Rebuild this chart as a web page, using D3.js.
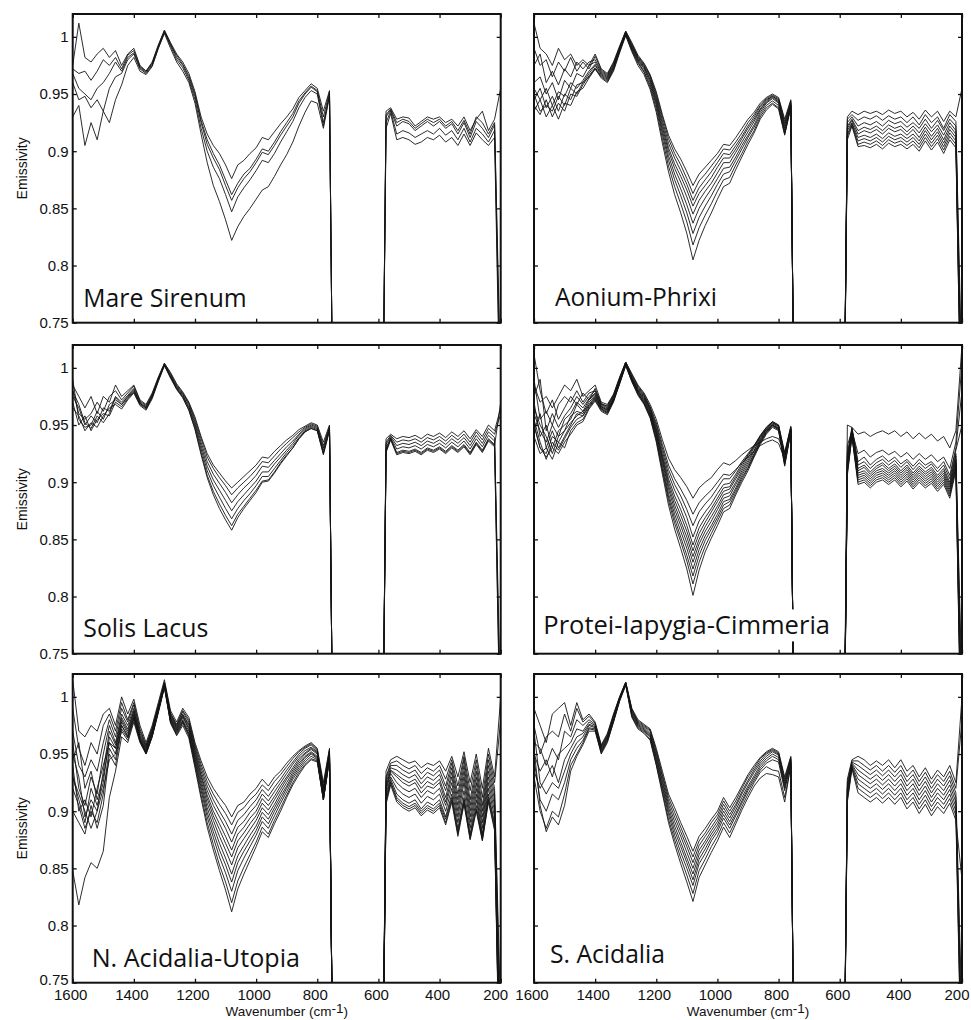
<!DOCTYPE html>
<html lang="en">
<head>
    <meta charset="UTF-8">
    <title>TES emissivity spectra</title>
    <script src="https://d3js.org/d3.v7.min.js"></script>
    <style>
        body { margin: 0; background: #fff; }
        text { font-family: "Liberation Sans", Arial, sans-serif; }
    </style>
</head>
<body>
<script>
// wavenumber grid (cm-1), 745 and 590 sit inside the CO2 band where the spectra fall off the plot
const wavenumbers = [1600,1580,1560,1540,1520,1500,1480,1460,1440,1420,1400,1380,1360,1340,1320,1300,1280,1260,1240,1220,
    1200,1180,1160,1140,1120,1100,1080,1060,1040,1020,1000,980,960,940,920,900,880,860,840,820,800,780,760,
    745,590,
    575,560,540,520,500,480,460,440,420,400,380,360,340,320,300,280,260,240,220,200];

const regions = ["Mare Sirenum", "Aonium-Phrixi", "Solis Lacus", "Protei-Iapygia-Cimmeria", "N. Acidalia-Utopia", "S. Acidalia"];
const xTicks = [1600, 1400, 1200, 1000, 800, 600, 400, 200];
const yTicks = [0.75, 0.8, 0.85, 0.9, 0.95, 1];

const mareSirenum = [
 [0.975,1.012,0.982,0.978,0.985,0.99,0.982,0.988,0.975,0.985,0.99,0.975,0.97,0.978,0.993,1.006,0.995,0.985,0.978,0.968,
  0.952,0.93,0.915,0.905,0.898,0.888,0.876,0.888,0.892,0.898,0.903,0.912,0.91,0.917,0.924,0.93,0.937,0.947,0.953,0.959,0.955,0.935,0.953,
  0.55,0.55,
  0.935,0.938,0.928,0.93,0.929,0.922,0.926,0.93,0.928,0.93,0.925,0.928,0.922,0.93,0.918,0.928,0.935,0.918,0.928,0.955],
 [0.972,0.968,0.97,0.962,0.97,0.98,0.975,0.982,0.972,0.984,0.988,0.974,0.97,0.977,0.992,1.005,0.993,0.984,0.976,0.966,
  0.95,0.927,0.91,0.898,0.888,0.875,0.862,0.872,0.88,0.885,0.893,0.902,0.9,0.908,0.917,0.925,0.933,0.944,0.951,0.957,0.953,0.93,0.952,
  0.55,0.55,
  0.932,0.937,0.925,0.928,0.926,0.92,0.924,0.928,0.925,0.928,0.922,0.926,0.918,0.927,0.915,0.93,0.925,0.915,0.925,0.7],
 [0.968,0.955,0.95,0.945,0.955,0.96,0.968,0.978,0.97,0.982,0.986,0.973,0.969,0.976,0.991,1.005,0.994,0.982,0.975,0.964,
  0.948,0.925,0.906,0.894,0.884,0.87,0.857,0.868,0.876,0.882,0.89,0.899,0.897,0.905,0.914,0.922,0.93,0.942,0.95,0.956,0.952,0.925,0.95,
  0.55,0.55,
  0.93,0.936,0.922,0.926,0.924,0.918,0.922,0.926,0.922,0.926,0.92,0.924,0.915,0.925,0.912,0.926,0.92,0.912,0.923,0.68],
 [0.96,0.945,0.948,0.938,0.945,0.935,0.955,0.965,0.968,0.98,0.985,0.972,0.968,0.975,0.99,1.004,0.992,0.98,0.973,0.962,
  0.945,0.92,0.9,0.886,0.876,0.862,0.847,0.86,0.868,0.875,0.883,0.892,0.89,0.898,0.908,0.917,0.926,0.938,0.947,0.953,0.95,0.922,0.949,
  0.55,0.55,
  0.925,0.935,0.915,0.918,0.916,0.912,0.915,0.918,0.915,0.92,0.914,0.918,0.91,0.92,0.908,0.92,0.915,0.908,0.918,0.66],
 [0.93,0.94,0.905,0.925,0.91,0.935,0.925,0.945,0.958,0.975,0.982,0.97,0.967,0.974,0.99,1.003,0.99,0.978,0.97,0.96,
  0.942,0.915,0.89,0.87,0.856,0.84,0.822,0.834,0.843,0.85,0.858,0.866,0.869,0.878,0.888,0.897,0.908,0.922,0.934,0.944,0.942,0.92,0.948,
  0.55,0.55,
  0.92,0.933,0.91,0.912,0.91,0.906,0.908,0.912,0.91,0.914,0.908,0.912,0.905,0.915,0.905,0.916,0.91,0.905,0.912,0.64]
];

const aoniumPhrixi = [
 [1.012,0.99,0.985,0.975,0.99,0.98,0.985,0.975,0.98,0.975,0.985,0.972,0.968,0.978,0.992,1.005,0.995,0.984,0.977,0.967,
  0.952,0.932,0.914,0.902,0.893,0.882,0.87,0.88,0.886,0.892,0.898,0.906,0.905,0.912,0.92,0.928,0.934,0.942,0.947,0.95,0.947,0.928,0.945,
  0.55,0.55,
  0.93,0.935,0.932,0.935,0.933,0.935,0.932,0.936,0.933,0.935,0.93,0.934,0.928,0.936,0.93,0.935,0.926,0.935,0.93,0.955],
 [0.99,0.975,0.98,0.965,0.978,0.97,0.982,0.97,0.978,0.972,0.983,0.971,0.967,0.977,0.991,1.005,0.994,0.983,0.976,0.966,
  0.95,0.93,0.911,0.898,0.888,0.876,0.863,0.874,0.88,0.887,0.894,0.902,0.901,0.908,0.916,0.925,0.932,0.94,0.946,0.949,0.946,0.926,0.944,
  0.55,0.55,
  0.928,0.932,0.927,0.93,0.928,0.931,0.927,0.931,0.928,0.93,0.925,0.93,0.923,0.932,0.925,0.93,0.92,0.932,0.926,0.7],
 [0.975,0.985,0.96,0.97,0.958,0.972,0.965,0.978,0.972,0.978,0.98,0.97,0.966,0.976,0.99,1.004,0.993,0.982,0.975,0.965,
  0.948,0.927,0.907,0.894,0.883,0.871,0.857,0.868,0.875,0.882,0.89,0.898,0.897,0.905,0.913,0.922,0.93,0.939,0.945,0.948,0.945,0.924,0.943,
  0.55,0.55,
  0.925,0.93,0.922,0.925,0.923,0.926,0.922,0.927,0.924,0.926,0.921,0.925,0.92,0.928,0.92,0.927,0.918,0.928,0.922,0.68],
 [0.96,0.965,0.95,0.96,0.945,0.962,0.955,0.968,0.965,0.975,0.978,0.969,0.965,0.975,0.99,1.004,0.992,0.981,0.974,0.963,
  0.946,0.924,0.903,0.889,0.878,0.866,0.852,0.863,0.87,0.877,0.886,0.894,0.894,0.902,0.911,0.92,0.928,0.937,0.944,0.948,0.944,0.922,0.942,
  0.55,0.55,
  0.922,0.928,0.918,0.921,0.919,0.922,0.918,0.923,0.92,0.922,0.917,0.922,0.916,0.924,0.917,0.923,0.914,0.925,0.918,0.66],
 [0.955,0.945,0.955,0.94,0.952,0.948,0.96,0.955,0.962,0.97,0.976,0.968,0.964,0.974,0.989,1.003,0.991,0.98,0.973,0.962,
  0.944,0.921,0.9,0.885,0.873,0.86,0.845,0.857,0.865,0.872,0.881,0.89,0.89,0.899,0.908,0.917,0.926,0.936,0.943,0.947,0.943,0.92,0.941,
  0.55,0.55,
  0.92,0.927,0.915,0.918,0.916,0.919,0.915,0.92,0.917,0.919,0.914,0.919,0.912,0.921,0.913,0.92,0.91,0.922,0.915,0.65],
 [0.945,0.955,0.938,0.948,0.935,0.95,0.945,0.958,0.96,0.968,0.975,0.967,0.963,0.973,0.988,1.003,0.99,0.979,0.972,0.96,
  0.942,0.918,0.896,0.88,0.867,0.853,0.837,0.85,0.859,0.867,0.876,0.885,0.886,0.895,0.905,0.914,0.923,0.934,0.942,0.946,0.942,0.918,0.94,
  0.55,0.55,
  0.918,0.925,0.912,0.914,0.912,0.915,0.911,0.916,0.913,0.915,0.911,0.915,0.909,0.918,0.91,0.917,0.907,0.919,0.912,0.64],
 [0.94,0.932,0.945,0.93,0.942,0.935,0.95,0.948,0.958,0.966,0.973,0.966,0.962,0.972,0.988,1.002,0.989,0.978,0.97,0.958,
  0.94,0.915,0.892,0.875,0.861,0.846,0.828,0.842,0.852,0.861,0.871,0.88,0.882,0.892,0.902,0.912,0.921,0.932,0.94,0.944,0.94,0.916,0.94,
  0.55,0.55,
  0.915,0.924,0.909,0.911,0.909,0.912,0.908,0.913,0.91,0.912,0.908,0.912,0.906,0.915,0.907,0.914,0.904,0.916,0.909,0.63],
 [0.935,0.945,0.93,0.94,0.928,0.942,0.94,0.952,0.955,0.964,0.972,0.965,0.961,0.971,0.987,1.002,0.988,0.977,0.969,0.956,
  0.937,0.911,0.887,0.869,0.854,0.838,0.818,0.833,0.844,0.854,0.865,0.875,0.877,0.888,0.898,0.909,0.918,0.93,0.938,0.942,0.938,0.915,0.939,
  0.55,0.55,
  0.913,0.923,0.906,0.908,0.906,0.909,0.905,0.91,0.907,0.909,0.905,0.909,0.903,0.912,0.904,0.911,0.901,0.913,0.906,0.62],
 [0.95,0.935,0.94,0.935,0.948,0.94,0.955,0.95,0.96,0.965,0.972,0.964,0.96,0.97,0.986,1.001,0.987,0.975,0.967,0.954,
  0.934,0.907,0.882,0.862,0.846,0.828,0.805,0.822,0.835,0.846,0.858,0.869,0.872,0.884,0.895,0.906,0.916,0.928,0.936,0.941,0.937,0.914,0.938,
  0.55,0.55,
  0.91,0.922,0.904,0.905,0.903,0.906,0.902,0.907,0.904,0.906,0.902,0.906,0.9,0.909,0.901,0.908,0.898,0.91,0.903,0.62]
];

const solisLacus = [
 [0.985,0.975,0.965,0.975,0.96,0.975,0.97,0.985,0.975,0.98,0.985,0.972,0.968,0.978,0.992,1.004,0.996,0.986,0.979,0.97,
  0.957,0.94,0.925,0.915,0.908,0.901,0.895,0.9,0.905,0.91,0.915,0.922,0.921,0.927,0.932,0.937,0.941,0.946,0.949,0.952,0.95,0.935,0.95,
  0.55,0.55,
  0.938,0.942,0.938,0.94,0.939,0.941,0.938,0.942,0.94,0.943,0.939,0.944,0.94,0.945,0.938,0.946,0.94,0.95,0.945,0.965],
 [0.98,0.96,0.955,0.96,0.97,0.962,0.975,0.98,0.972,0.978,0.984,0.971,0.967,0.977,0.991,1.004,0.995,0.985,0.978,0.969,
  0.955,0.938,0.922,0.912,0.904,0.897,0.889,0.895,0.9,0.905,0.911,0.918,0.917,0.923,0.929,0.934,0.939,0.944,0.948,0.951,0.949,0.932,0.949,
  0.55,0.55,
  0.935,0.941,0.935,0.937,0.936,0.938,0.935,0.939,0.937,0.94,0.936,0.941,0.937,0.942,0.935,0.944,0.937,0.947,0.942,0.96],
 [0.975,0.965,0.95,0.958,0.952,0.965,0.962,0.975,0.97,0.976,0.982,0.97,0.966,0.976,0.99,1.003,0.994,0.984,0.977,0.968,
  0.953,0.935,0.918,0.907,0.899,0.891,0.882,0.889,0.895,0.9,0.906,0.914,0.913,0.919,0.925,0.931,0.936,0.942,0.947,0.95,0.948,0.93,0.948,
  0.55,0.55,
  0.933,0.94,0.932,0.934,0.933,0.935,0.932,0.936,0.934,0.937,0.933,0.938,0.934,0.939,0.932,0.941,0.934,0.944,0.939,0.7],
 [0.99,0.955,0.948,0.95,0.962,0.955,0.968,0.972,0.968,0.974,0.98,0.969,0.965,0.975,0.99,1.003,0.993,0.983,0.976,0.966,
  0.951,0.932,0.914,0.902,0.893,0.884,0.875,0.883,0.889,0.895,0.901,0.909,0.909,0.916,0.922,0.928,0.934,0.941,0.946,0.949,0.947,0.928,0.947,
  0.55,0.55,
  0.93,0.939,0.929,0.931,0.93,0.932,0.929,0.933,0.931,0.934,0.93,0.935,0.931,0.936,0.929,0.938,0.931,0.941,0.936,0.68],
 [0.97,0.95,0.958,0.945,0.955,0.96,0.958,0.97,0.966,0.973,0.979,0.968,0.964,0.974,0.989,1.002,0.992,0.982,0.975,0.965,
  0.949,0.929,0.91,0.897,0.887,0.877,0.868,0.877,0.884,0.89,0.897,0.905,0.905,0.912,0.919,0.926,0.932,0.939,0.945,0.948,0.946,0.926,0.946,
  0.55,0.55,
  0.928,0.938,0.926,0.928,0.927,0.929,0.926,0.93,0.928,0.931,0.927,0.932,0.928,0.933,0.926,0.935,0.928,0.938,0.933,0.66],
 [0.965,0.958,0.945,0.952,0.948,0.958,0.965,0.968,0.964,0.972,0.978,0.967,0.963,0.973,0.988,1.002,0.991,0.981,0.974,0.963,
  0.947,0.926,0.906,0.892,0.881,0.871,0.862,0.872,0.879,0.886,0.893,0.901,0.902,0.909,0.917,0.924,0.93,0.938,0.944,0.947,0.945,0.924,0.945,
  0.55,0.55,
  0.926,0.937,0.924,0.926,0.925,0.927,0.924,0.928,0.926,0.929,0.925,0.93,0.926,0.931,0.924,0.933,0.926,0.936,0.931,0.65],
 [0.98,0.968,0.952,0.947,0.958,0.952,0.96,0.974,0.968,0.975,0.981,0.969,0.965,0.975,0.989,1.003,0.992,0.982,0.974,0.963,
  0.946,0.924,0.904,0.889,0.877,0.867,0.858,0.869,0.877,0.884,0.891,0.9,0.901,0.908,0.916,0.923,0.93,0.938,0.944,0.947,0.945,0.925,0.946,
  0.55,0.55,
  0.927,0.938,0.925,0.927,0.926,0.928,0.925,0.929,0.927,0.93,0.926,0.931,0.927,0.932,0.925,0.934,0.927,0.937,0.932,0.97]
];

const proteiIapygiaCimmeria = [
 [0.985,0.97,0.975,0.965,0.975,0.985,0.98,0.99,0.975,0.98,0.985,0.97,0.968,0.977,0.992,1.005,0.995,0.985,0.978,0.968,
  0.955,0.937,0.921,0.911,0.904,0.896,0.886,0.895,0.9,0.904,0.911,0.917,0.915,0.919,0.924,0.928,0.932,0.935,0.938,0.94,0.938,0.925,0.946,
  0.55,0.55,
  0.95,0.948,0.942,0.944,0.94,0.943,0.945,0.942,0.945,0.94,0.944,0.938,0.943,0.938,0.942,0.936,0.94,0.93,0.945,1.02],
 [0.99,0.955,0.962,0.95,0.968,0.975,0.97,0.98,0.97,0.978,0.98,0.968,0.967,0.976,0.991,1.005,0.994,0.984,0.977,0.966,
  0.952,0.933,0.915,0.903,0.894,0.884,0.872,0.882,0.888,0.893,0.9,0.907,0.906,0.911,0.917,0.922,0.927,0.932,0.935,0.937,0.934,0.92,0.945,
  0.55,0.55,
  0.932,0.945,0.925,0.928,0.922,0.926,0.928,0.924,0.927,0.922,0.926,0.92,0.925,0.92,0.924,0.918,0.922,0.912,0.935,1.005],
 [1.012,0.98,0.96,0.972,0.955,0.965,0.975,0.968,0.978,0.972,0.982,0.969,0.966,0.976,0.99,1.005,0.993,0.983,0.976,0.965,
  0.95,0.93,0.911,0.898,0.888,0.876,0.862,0.874,0.881,0.887,0.895,0.903,0.903,0.91,0.918,0.925,0.932,0.94,0.946,0.95,0.947,0.925,0.948,
  0.55,0.55,
  0.925,0.948,0.918,0.922,0.915,0.92,0.923,0.918,0.922,0.916,0.92,0.914,0.92,0.915,0.918,0.912,0.918,0.906,0.93,0.98],
 [0.975,0.99,0.945,0.96,0.948,0.958,0.965,0.975,0.968,0.975,0.98,0.968,0.965,0.975,0.99,1.005,0.992,0.982,0.975,0.964,
  0.948,0.927,0.907,0.893,0.882,0.869,0.852,0.866,0.874,0.881,0.89,0.898,0.899,0.907,0.916,0.924,0.932,0.941,0.948,0.953,0.95,0.926,0.949,
  0.55,0.55,
  0.922,0.947,0.915,0.918,0.912,0.917,0.92,0.915,0.919,0.913,0.918,0.911,0.917,0.912,0.916,0.909,0.915,0.903,0.928,0.95],
 [0.96,0.945,0.935,0.95,0.94,0.955,0.96,0.97,0.965,0.973,0.978,0.967,0.964,0.974,0.989,1.004,0.991,0.981,0.974,0.963,
  0.946,0.924,0.903,0.888,0.876,0.862,0.845,0.86,0.869,0.877,0.886,0.895,0.896,0.905,0.914,0.923,0.931,0.94,0.948,0.953,0.95,0.924,0.948,
  0.55,0.55,
  0.92,0.946,0.912,0.915,0.909,0.914,0.917,0.912,0.916,0.91,0.915,0.908,0.914,0.909,0.913,0.906,0.912,0.9,0.925,0.72],
 [0.95,0.93,0.925,0.94,0.935,0.945,0.958,0.962,0.96,0.97,0.976,0.966,0.963,0.973,0.989,1.004,0.991,0.98,0.973,0.962,
  0.945,0.922,0.9,0.884,0.871,0.857,0.84,0.855,0.865,0.874,0.883,0.892,0.894,0.903,0.912,0.921,0.93,0.939,0.947,0.952,0.949,0.922,0.947,
  0.55,0.55,
  0.918,0.945,0.91,0.913,0.907,0.912,0.915,0.91,0.914,0.908,0.913,0.906,0.912,0.907,0.911,0.904,0.91,0.898,0.923,0.7],
 [0.97,0.94,0.95,0.93,0.945,0.95,0.955,0.968,0.962,0.972,0.977,0.966,0.963,0.973,0.988,1.004,0.99,0.98,0.972,0.961,
  0.943,0.92,0.897,0.88,0.866,0.852,0.835,0.85,0.861,0.87,0.879,0.889,0.891,0.9,0.91,0.919,0.928,0.938,0.946,0.952,0.949,0.92,0.947,
  0.55,0.55,
  0.915,0.944,0.908,0.91,0.905,0.91,0.912,0.908,0.912,0.906,0.911,0.904,0.91,0.905,0.909,0.902,0.908,0.896,0.92,0.68],
 [0.94,0.925,0.93,0.945,0.93,0.94,0.95,0.96,0.958,0.968,0.975,0.965,0.962,0.972,0.988,1.003,0.99,0.979,0.971,0.96,
  0.942,0.918,0.894,0.876,0.862,0.847,0.83,0.846,0.857,0.866,0.876,0.886,0.888,0.898,0.908,0.917,0.927,0.937,0.945,0.951,0.948,0.918,0.946,
  0.55,0.55,
  0.913,0.943,0.906,0.908,0.903,0.908,0.91,0.906,0.91,0.904,0.909,0.902,0.908,0.903,0.907,0.9,0.906,0.894,0.918,0.66],
 [0.965,0.95,0.94,0.925,0.94,0.945,0.952,0.958,0.962,0.967,0.974,0.964,0.961,0.972,0.987,1.003,0.989,0.978,0.97,0.959,
  0.94,0.915,0.89,0.872,0.857,0.842,0.824,0.841,0.853,0.862,0.872,0.883,0.885,0.895,0.906,0.915,0.925,0.936,0.944,0.95,0.947,0.917,0.945,
  0.55,0.55,
  0.911,0.942,0.904,0.906,0.901,0.906,0.908,0.904,0.908,0.902,0.907,0.9,0.906,0.901,0.905,0.898,0.904,0.892,0.916,0.65],
 [0.955,0.935,0.92,0.935,0.928,0.938,0.948,0.955,0.958,0.966,0.973,0.964,0.961,0.971,0.987,1.003,0.989,0.978,0.969,0.958,
  0.938,0.912,0.887,0.868,0.852,0.836,0.818,0.836,0.849,0.859,0.869,0.88,0.883,0.893,0.904,0.913,0.924,0.935,0.944,0.95,0.946,0.916,0.945,
  0.55,0.55,
  0.91,0.941,0.902,0.904,0.899,0.904,0.906,0.902,0.906,0.9,0.905,0.898,0.904,0.899,0.903,0.896,0.902,0.89,0.914,0.64],
 [0.945,0.96,0.93,0.92,0.935,0.93,0.945,0.952,0.955,0.965,0.972,0.963,0.96,0.971,0.986,1.002,0.988,0.977,0.969,0.957,
  0.937,0.91,0.884,0.864,0.848,0.831,0.811,0.83,0.844,0.855,0.866,0.877,0.88,0.891,0.902,0.912,0.923,0.934,0.943,0.949,0.946,0.915,0.944,
  0.55,0.55,
  0.908,0.94,0.9,0.902,0.897,0.902,0.904,0.9,0.904,0.898,0.903,0.896,0.902,0.897,0.901,0.894,0.9,0.888,0.912,0.63],
 [0.95,0.93,0.922,0.93,0.925,0.935,0.942,0.95,0.953,0.964,0.971,0.962,0.959,0.97,0.986,1.002,0.988,0.976,0.968,0.956,
  0.935,0.907,0.88,0.859,0.842,0.824,0.801,0.823,0.839,0.851,0.862,0.874,0.877,0.889,0.9,0.91,0.922,0.933,0.942,0.948,0.945,0.914,0.944,
  0.55,0.55,
  0.906,0.94,0.898,0.9,0.895,0.9,0.902,0.898,0.902,0.896,0.901,0.894,0.9,0.895,0.899,0.892,0.898,0.886,0.91,0.62]
];

const nAcidaliaUtopia = [
 [1.015,0.97,0.965,0.975,0.97,0.985,0.99,0.975,1.0,0.985,0.998,0.975,0.96,0.975,0.995,1.015,0.988,0.978,0.99,0.982,
  0.96,0.944,0.93,0.92,0.912,0.905,0.895,0.905,0.908,0.915,0.92,0.928,0.922,0.93,0.935,0.942,0.948,0.953,0.957,0.96,0.955,0.925,0.955,
  0.55,0.55,
  0.935,0.945,0.948,0.945,0.942,0.944,0.938,0.942,0.94,0.944,0.935,0.948,0.93,0.952,0.925,0.95,0.92,0.955,0.93,1.0],
 [0.99,0.955,0.94,0.96,0.95,0.975,0.985,0.97,0.995,0.98,0.995,0.972,0.958,0.973,0.993,1.013,0.986,0.976,0.988,0.98,
  0.958,0.941,0.926,0.915,0.906,0.898,0.888,0.899,0.903,0.91,0.915,0.923,0.918,0.926,0.932,0.939,0.946,0.952,0.956,0.959,0.954,0.922,0.954,
  0.55,0.55,
  0.93,0.942,0.944,0.94,0.937,0.94,0.933,0.938,0.935,0.94,0.928,0.945,0.922,0.948,0.918,0.945,0.912,0.95,0.925,0.98],
 [0.97,0.94,0.93,0.945,0.935,0.96,0.98,0.965,0.99,0.978,0.993,0.97,0.957,0.972,0.992,1.012,0.985,0.975,0.987,0.978,
  0.956,0.938,0.922,0.91,0.9,0.891,0.88,0.892,0.897,0.904,0.91,0.919,0.913,0.921,0.928,0.936,0.943,0.95,0.955,0.958,0.953,0.92,0.953,
  0.55,0.55,
  0.928,0.94,0.94,0.936,0.933,0.936,0.928,0.934,0.931,0.936,0.922,0.942,0.915,0.945,0.91,0.94,0.905,0.945,0.92,0.72],
 [0.96,0.92,0.905,0.93,0.915,0.95,0.975,0.96,0.985,0.975,0.99,0.968,0.956,0.971,0.991,1.012,0.984,0.974,0.985,0.976,
  0.954,0.935,0.918,0.905,0.895,0.885,0.873,0.886,0.891,0.899,0.905,0.915,0.909,0.917,0.925,0.933,0.941,0.948,0.953,0.956,0.952,0.918,0.952,
  0.55,0.55,
  0.925,0.938,0.936,0.932,0.929,0.932,0.924,0.93,0.927,0.932,0.918,0.938,0.91,0.94,0.905,0.935,0.9,0.94,0.915,0.7],
 [0.95,0.93,0.895,0.91,0.9,0.935,0.97,0.958,0.982,0.972,0.988,0.966,0.955,0.97,0.99,1.011,0.983,0.973,0.984,0.975,
  0.952,0.932,0.914,0.9,0.889,0.878,0.866,0.88,0.886,0.894,0.9,0.911,0.905,0.913,0.922,0.93,0.938,0.946,0.951,0.955,0.951,0.916,0.951,
  0.55,0.55,
  0.922,0.936,0.932,0.928,0.925,0.928,0.92,0.926,0.923,0.928,0.912,0.934,0.905,0.935,0.9,0.93,0.895,0.935,0.91,0.68],
 [0.93,0.91,0.89,0.92,0.905,0.925,0.965,0.955,0.98,0.97,0.987,0.965,0.954,0.969,0.99,1.011,0.982,0.972,0.983,0.973,
  0.95,0.93,0.911,0.896,0.884,0.872,0.86,0.874,0.881,0.889,0.896,0.907,0.901,0.91,0.919,0.928,0.936,0.944,0.95,0.954,0.95,0.915,0.95,
  0.55,0.55,
  0.92,0.935,0.93,0.925,0.922,0.925,0.916,0.922,0.92,0.925,0.908,0.93,0.9,0.93,0.895,0.925,0.89,0.93,0.905,0.66],
 [0.94,0.9,0.91,0.895,0.92,0.94,0.96,0.95,0.978,0.968,0.985,0.964,0.953,0.968,0.989,1.01,0.981,0.971,0.982,0.972,
  0.948,0.927,0.907,0.892,0.878,0.866,0.853,0.868,0.876,0.884,0.892,0.903,0.897,0.906,0.916,0.925,0.934,0.942,0.948,0.952,0.948,0.913,0.949,
  0.55,0.55,
  0.918,0.933,0.925,0.92,0.917,0.92,0.912,0.918,0.915,0.92,0.905,0.925,0.895,0.925,0.89,0.92,0.885,0.925,0.9,0.65],
 [0.92,0.905,0.885,0.9,0.89,0.915,0.955,0.945,0.975,0.966,0.984,0.963,0.952,0.967,0.988,1.01,0.98,0.97,0.98,0.97,
  0.946,0.924,0.903,0.887,0.872,0.859,0.845,0.861,0.87,0.879,0.887,0.899,0.893,0.903,0.913,0.922,0.932,0.94,0.947,0.951,0.947,0.912,0.948,
  0.55,0.55,
  0.915,0.93,0.92,0.915,0.912,0.915,0.907,0.913,0.91,0.915,0.9,0.92,0.89,0.918,0.885,0.915,0.88,0.92,0.895,0.64],
 [0.9,0.89,0.88,0.905,0.885,0.905,0.95,0.94,0.972,0.964,0.982,0.962,0.951,0.966,0.988,1.009,0.979,0.969,0.979,0.968,
  0.944,0.921,0.899,0.882,0.866,0.853,0.838,0.855,0.865,0.874,0.883,0.895,0.889,0.9,0.91,0.92,0.93,0.938,0.945,0.95,0.946,0.91,0.947,
  0.55,0.55,
  0.912,0.928,0.915,0.91,0.907,0.91,0.902,0.908,0.905,0.91,0.895,0.915,0.885,0.912,0.88,0.91,0.878,0.915,0.89,0.63],
 [0.93,0.915,0.9,0.885,0.9,0.92,0.945,0.95,0.97,0.962,0.98,0.961,0.95,0.965,0.987,1.009,0.978,0.968,0.978,0.967,
  0.942,0.918,0.895,0.877,0.86,0.846,0.83,0.848,0.859,0.869,0.879,0.891,0.885,0.896,0.907,0.917,0.928,0.936,0.943,0.948,0.945,0.91,0.946,
  0.55,0.55,
  0.91,0.926,0.912,0.907,0.904,0.907,0.9,0.905,0.902,0.907,0.893,0.912,0.882,0.91,0.878,0.905,0.876,0.912,0.888,0.62],
 [0.945,0.96,0.92,0.935,0.91,0.93,0.96,0.955,0.975,0.965,0.982,0.962,0.951,0.966,0.987,1.009,0.978,0.967,0.977,0.966,
  0.94,0.914,0.89,0.871,0.853,0.838,0.82,0.839,0.851,0.862,0.873,0.886,0.88,0.892,0.903,0.914,0.925,0.934,0.941,0.946,0.944,0.91,0.945,
  0.55,0.55,
  0.908,0.925,0.91,0.905,0.902,0.905,0.898,0.903,0.9,0.905,0.89,0.91,0.88,0.908,0.876,0.902,0.875,0.91,0.885,0.62],
 [0.848,0.818,0.842,0.855,0.85,0.865,0.912,0.935,0.965,0.96,0.978,0.96,0.95,0.965,0.986,1.008,0.977,0.966,0.975,0.964,
  0.938,0.911,0.886,0.866,0.848,0.831,0.812,0.832,0.845,0.857,0.869,0.882,0.877,0.889,0.9,0.912,0.923,0.932,0.94,0.945,0.943,0.91,0.945,
  0.55,0.55,
  0.906,0.923,0.908,0.903,0.9,0.903,0.896,0.901,0.898,0.903,0.888,0.908,0.878,0.906,0.875,0.9,0.874,0.908,0.883,0.61]
];

const sAcidalia = [
 [0.99,0.975,0.96,0.985,0.99,0.995,0.975,0.995,0.98,0.985,0.978,0.958,0.968,0.985,1.0,1.013,0.99,0.98,0.976,0.972,
  0.955,0.935,0.915,0.903,0.89,0.878,0.865,0.878,0.885,0.893,0.9,0.912,0.903,0.912,0.922,0.932,0.94,0.947,0.952,0.955,0.952,0.93,0.948,
  0.55,0.55,
  0.928,0.945,0.948,0.945,0.94,0.944,0.94,0.945,0.938,0.945,0.935,0.94,0.93,0.938,0.928,0.936,0.93,0.94,0.925,1.0],
 [0.975,0.95,0.965,0.97,0.965,0.985,0.97,0.99,0.978,0.983,0.977,0.957,0.967,0.984,1.0,1.013,0.989,0.979,0.975,0.971,
  0.953,0.932,0.912,0.899,0.886,0.873,0.86,0.874,0.881,0.89,0.897,0.909,0.9,0.909,0.92,0.93,0.938,0.946,0.951,0.954,0.951,0.928,0.947,
  0.55,0.55,
  0.925,0.944,0.944,0.94,0.936,0.94,0.935,0.94,0.934,0.94,0.93,0.936,0.926,0.934,0.924,0.932,0.926,0.935,0.92,0.98],
 [0.96,0.955,0.94,0.955,0.945,0.97,0.965,0.98,0.975,0.98,0.976,0.956,0.966,0.983,0.999,1.012,0.988,0.978,0.974,0.97,
  0.951,0.93,0.909,0.895,0.882,0.869,0.855,0.87,0.878,0.886,0.894,0.906,0.897,0.906,0.917,0.927,0.936,0.944,0.95,0.953,0.95,0.926,0.946,
  0.55,0.55,
  0.922,0.943,0.94,0.936,0.932,0.936,0.931,0.936,0.93,0.936,0.926,0.932,0.922,0.93,0.92,0.928,0.922,0.931,0.916,0.72],
 [0.95,0.935,0.945,0.93,0.95,0.955,0.96,0.972,0.97,0.978,0.975,0.955,0.965,0.982,0.999,1.012,0.987,0.977,0.973,0.968,
  0.949,0.927,0.906,0.891,0.878,0.864,0.85,0.866,0.874,0.883,0.891,0.903,0.894,0.904,0.915,0.925,0.934,0.942,0.948,0.952,0.949,0.924,0.945,
  0.55,0.55,
  0.92,0.942,0.936,0.932,0.928,0.932,0.927,0.932,0.926,0.932,0.922,0.928,0.918,0.926,0.916,0.924,0.918,0.927,0.912,0.7],
 [0.935,0.92,0.93,0.94,0.925,0.945,0.955,0.965,0.968,0.976,0.974,0.954,0.964,0.981,0.998,1.012,0.986,0.976,0.972,0.967,
  0.947,0.925,0.903,0.887,0.873,0.859,0.845,0.862,0.871,0.88,0.888,0.9,0.891,0.901,0.912,0.922,0.931,0.94,0.946,0.95,0.947,0.922,0.944,
  0.55,0.55,
  0.918,0.941,0.932,0.928,0.924,0.928,0.923,0.928,0.922,0.928,0.918,0.924,0.914,0.922,0.912,0.92,0.914,0.923,0.908,0.68],
 [0.97,0.925,0.915,0.925,0.92,0.935,0.95,0.96,0.965,0.975,0.973,0.953,0.963,0.98,0.998,1.011,0.985,0.975,0.971,0.966,
  0.945,0.922,0.9,0.883,0.869,0.855,0.84,0.858,0.867,0.877,0.885,0.897,0.888,0.898,0.909,0.92,0.929,0.938,0.944,0.948,0.945,0.92,0.943,
  0.55,0.55,
  0.915,0.94,0.928,0.924,0.92,0.924,0.919,0.924,0.918,0.924,0.914,0.92,0.91,0.918,0.908,0.916,0.91,0.919,0.904,0.66],
 [0.945,0.91,0.9,0.915,0.91,0.925,0.945,0.955,0.962,0.973,0.972,0.952,0.962,0.979,0.997,1.011,0.984,0.974,0.97,0.965,
  0.943,0.92,0.897,0.879,0.864,0.85,0.835,0.854,0.863,0.874,0.882,0.894,0.885,0.896,0.907,0.918,0.927,0.936,0.942,0.945,0.943,0.918,0.942,
  0.55,0.55,
  0.912,0.939,0.924,0.92,0.916,0.92,0.915,0.92,0.914,0.92,0.91,0.916,0.906,0.914,0.904,0.912,0.906,0.915,0.9,0.65],
 [0.93,0.9,0.885,0.9,0.895,0.915,0.94,0.95,0.96,0.972,0.971,0.951,0.961,0.978,0.997,1.011,0.983,0.973,0.969,0.963,
  0.941,0.917,0.893,0.875,0.859,0.844,0.828,0.848,0.858,0.869,0.878,0.89,0.881,0.892,0.904,0.915,0.925,0.934,0.939,0.936,0.935,0.912,0.94,
  0.55,0.55,
  0.91,0.938,0.92,0.916,0.912,0.916,0.911,0.916,0.91,0.916,0.906,0.912,0.902,0.91,0.9,0.908,0.902,0.911,0.896,0.64],
 [0.955,0.905,0.882,0.895,0.888,0.905,0.935,0.948,0.958,0.97,0.97,0.95,0.96,0.978,0.996,1.01,0.982,0.972,0.968,0.962,
  0.94,0.915,0.89,0.871,0.854,0.838,0.821,0.842,0.853,0.864,0.874,0.886,0.877,0.889,0.901,0.912,0.922,0.929,0.933,0.932,0.93,0.908,0.94,
  0.55,0.55,
  0.908,0.937,0.916,0.912,0.908,0.912,0.907,0.912,0.906,0.912,0.902,0.908,0.898,0.906,0.896,0.904,0.898,0.907,0.892,0.84]
];

const spectra = [mareSirenum, aoniumPhrixi, solisLacus, proteiIapygiaCimmeria, nAcidaliaUtopia, sAcidalia];

// layout
const W = 971, H = 1020;
const colX = [72.7, 534];
const rowY = [14, 345, 674];
const pw = 428, ph = 308.7;
// label placement inside each panel: left offset, baseline above bottom, drawn width
const labelBox = [
    {dx: 10.6, by: 16, w: 163.4},
    {dx: 21, by: 17, w: 162},
    {dx: 10.6, by: 17, w: 125},
    {dx: 9.3, by: 19.3, w: 286.7},
    {dx: 19, by: 16, w: 208.3},
    {dx: 16, by: 19.4, w: 115}
];

const svg = d3.select("body").append("svg")
    .attr("width", W)
    .attr("height", H);

const x = d3.scaleLinear().domain([1600, 200]).range([0, pw]);
const y = d3.scaleLinear().domain([0.75, 1.02]).range([ph, 0]);

const line = d3.line()
    .x((d, i) => x(wavenumbers[i]))
    .y(d => y(d));

const fmt = d => String(+d.toFixed(2));

regions.forEach((name, k) => {
    const col = k % 2, row = Math.floor(k / 2);
    const g = svg.append("g").attr("transform", `translate(${colX[col]},${rowY[row]})`);

    g.append("clipPath").attr("id", "clip" + k)
        .append("rect").attr("width", pw).attr("height", ph);

    // spectra
    g.append("g")
        .attr("clip-path", `url(#clip${k})`)
        .selectAll("path")
        .data(spectra[k])
        .join("path")
        .attr("d", line)
        .attr("fill", "none")
        .attr("stroke", "#151515")
        .attr("stroke-width", 0.9)
        .attr("stroke-linejoin", "round");

    // region label with white box behind it
    const lb = labelBox[k];
    const lg = g.append("g");
    const t = lg.append("text")
        .attr("x", lb.dx)
        .attr("y", ph - lb.by)
        .attr("textLength", lb.w)
        .attr("lengthAdjust", "spacingAndGlyphs")
        .style("font-family", "'Open Sans', 'Noto Sans', sans-serif")
        .style("font-size", "25px")
        .attr("fill", "#111")
        .text(name);
    const bb = t.node().getBBox();
    lg.insert("rect", "text")
        .attr("x", bb.x - 2).attr("y", bb.y + 2)
        .attr("width", bb.width + 4).attr("height", bb.height - 2)
        .attr("fill", "#fff");

    // axes, ticks pointing inward on all four sides
    const bottom = d3.axisBottom(x).tickValues(xTicks).tickSize(-4).tickSizeOuter(0).tickPadding(7)
        .tickFormat(row === 2 ? d3.format("d") : () => "");
    const top = d3.axisTop(x).tickValues(xTicks).tickSize(-4).tickSizeOuter(0).tickFormat(() => "");
    const left = d3.axisLeft(y).tickValues(yTicks).tickSize(-4).tickSizeOuter(0).tickPadding(4)
        .tickFormat(col === 0 ? fmt : () => "");
    const right = d3.axisRight(y).tickValues(yTicks).tickSize(-4).tickSizeOuter(0).tickFormat(() => "");

    const axes = [
        g.append("g").attr("transform", `translate(0,${ph})`).call(bottom),
        g.append("g").call(top),
        g.append("g").call(left),
        g.append("g").attr("transform", `translate(${pw},0)`).call(right)
    ];
    axes.forEach(a => {
        a.select(".domain").remove();
        a.selectAll(".tick line").attr("stroke", "#111").attr("stroke-width", 1.3);
        a.selectAll(".tick text")
            .style("font-family", "'Liberation Sans', Arial, sans-serif")
            .style("font-size", "15px")
            .attr("fill", "#111");
    });
    // x tick labels sit a little left of their ticks, the edge one more so
    axes[0].selectAll(".tick text").attr("dx", d => d === 200 ? -5.5 : -2.5);
    // lowest y label on the bottom row sits just clear of the 1600 label
    if (row === 2) axes[2].selectAll(".tick text").filter(d => d === 0.75).attr("dy", "0.15em");

    // frame
    g.append("rect")
        .attr("width", pw).attr("height", ph)
        .attr("fill", "none")
        .attr("stroke", "#111")
        .attr("stroke-width", 2);

    if (col === 0) {
        g.append("text")
            .attr("transform", `translate(${-46},${ph / 2}) rotate(-90)`)
            .attr("text-anchor", "middle")
            .style("font-size", "14px")
            .attr("fill", "#111")
            .text("Emissivity");
    }
    if (row === 2) {
        const xl = g.append("text")
            .attr("x", pw / 2)
            .attr("y", ph + 33)
            .attr("text-anchor", "middle")
            .style("font-size", "13.5px")
            .attr("fill", "#111");
        xl.append("tspan").text("Wavenumber (cm");
        xl.append("tspan").attr("dy", -3).text("-1");
        xl.append("tspan").attr("dy", 3).text(")");
    }
});
</script>
</body>
</html>
